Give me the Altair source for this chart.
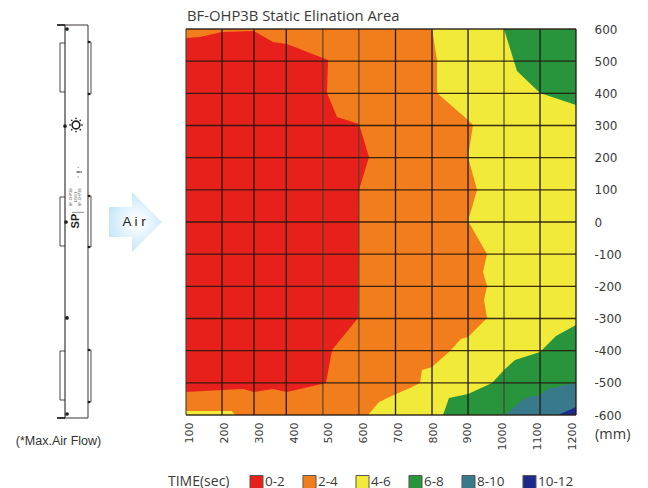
import altair as alt
import pandas as pd

TITLE = "BF-OHP3B Static Elination Area"
BANDS = ["0-2", "2-4", "4-6", "6-8", "8-10", "10-12"]
COLORS = ["#e8201c", "#f27d1c", "#f2ea38", "#28943c", "#38798c", "#1c2a8c"]
X_TICKS = [100, 200, 300, 400, 500, 600, 700, 800, 900, 1000, 1100, 1200]
Y_TICKS = [600, 500, 400, 300, 200, 100, 0, -100, -200, -300, -400, -500, -600]
X_DOMAIN = [88.5, 1211.5]
Y_DOMAIN = [-600, 600]

GRID_X_DARK = [192.2, 284.3, 377.2, 691.8, 796.9, 900.6, 1107.9, 1211.5]
GRID_X_SOFT = [88.5, 482.6, 586.2, 1004.2]
GRID_Y = [600, 500, 400, 300, 200, 100, 0, -100, -200, -300, -400, -500, -600]

# contour regions, painted in this order
ORANGE_X = [88.5, 1211.5, 1211.5, 88.5]
ORANGE_Y = [600, 600, -600, -600]
YELLOW_X = [796.9, 811.3, 811.3, 900.6, 915, 900.6, 926.5, 900.6, 955.3, 943.7, 955.3,
            946.6, 955.3, 900.6, 880, 848.7, 796.9, 768, 762.3, 733.5, 693.2, 644.3,
            612.6, 1211.5, 1211.5]
YELLOW_Y = [600, 503.6, 401, 317, 301.6, 202, 99.5, 3.1, -99.5, -155.4, -199, -242.5,
            -298.4, -357.5, -364, -401, -450.8, -460.1, -500.5, -516, -534.7, -559.6,
            -600, -600, 600]
YELLOW2_X = [88.5, 220, 230, 88.5]
YELLOW2_Y = [-587.6, -587.6, -600, -600]
GREEN_X = [1004.2, 1041.6, 1107.9, 1211.5, 1211.5]
GREEN_Y = [600, 469.4, 401, 363.7, 600]
GREEN2_X = [828.6, 845.8, 900.6, 969.7, 1004.2, 1035.9, 1107.9, 1153.9, 1211.5, 1211.5]
GREEN2_Y = [-600, -547.2, -534.7, -500.5, -460.1, -429, -404.1, -354.4, -320.2, -600]
TEAL_X = [1007, 1064.7, 1107.9, 1130.9, 1211.5, 1211.5]
TEAL_Y = [-600, -547.2, -537.8, -519.2, -500.5, -600]
NAVY_X = [1159.7, 1211.5, 1211.5]
NAVY_Y = [-600, -575.1, -600]
RED_X = [88.5, 128.8, 192.2, 284.3, 339, 379.3, 497.4, 494.5, 523.3, 586.7, 615.5, 586.7,
         583.8, 508.9, 491.6, 379.3, 339, 284.3, 252.6, 192.2, 88.5]
RED_Y = [572, 575.1, 590.7, 593.8, 559.6, 553.4, 503.6, 401, 326.4, 304.7, 202, 99.5,
         -298.4, -398, -500.5, -528.5, -519.2, -528.5, -519.2, -522.3, -528.5]

REGIONS = [("a", "2-4", ORANGE_X, ORANGE_Y), ("b", "4-6", YELLOW_X, YELLOW_Y),
           ("c", "4-6", YELLOW2_X, YELLOW2_Y), ("d", "6-8", GREEN_X, GREEN_Y),
           ("e", "6-8", GREEN2_X, GREEN2_Y), ("f", "8-10", TEAL_X, TEAL_Y),
           ("g", "10-12", NAVY_X, NAVY_Y), ("h", "0-2", RED_X, RED_Y)]

# fixture side view, same data coordinates as the plot
BODY_LEFT = [(-259.9, 612.4, -259.9, -609.3)]
BODY_DARK = [(-193.7, 612.4, -193.7, -609.3), (-282.9, 612.4, -193.7, 612.4),
             (-282.9, -609.3, -193.7, -609.3)]
THICK = [(-282.9, 612.4, -259.9, 612.4), (-282.9, -609.3, -259.9, -609.3)]
BRACKETS_L = [(556.5, 404.2), (77.7, -74.6), (-401, -553.4)]
BRACKETS_R = [(559.6, 397.9), (80.8, -77.7), (-397.9, -559.6)]
BR_L_OUT = -274.3
BR_R_OUT = -185.1
SCREWS_X = [-254.2, -259.9, -257, -254.2, -254.2]
SCREWS_Y = [600, 298.4, 0, -298.4, -596.9]
CLIPS_X = [-190.8] * 6
CLIPS_Y = [559.6, 397.9, 80.8, -77.7, -397.9, -559.6]
GEAR_X = [-228.3]
GEAR_Y = [301.6]
GEAR_DOTS_X = [-228.3, -228.3, -211, -245.5, -216, -240.5, -216, -240.5]
GEAR_DOTS_Y = [322, 281, 301.6, 301.6, 316, 316, 287, 287]
MINI_DOTS_X = [-225, -222, -219, -213.5]
MINI_DOTS_Y = [155.4, 155.4, 155.4, 155.4]
MINI_DOTS2_X = [-222, -222]
MINI_DOTS2_Y = [170, 140]
TINY_TEXT = ["BF-OHP3B", "1200/1", "BF-OHP3B"]
TINY_X = [-242, -228, -216]
TINY_Y = [77, 77, 77]
SP_TEXT = "SP"
SP_X = [-228.3]
SP_Y = [3]
RULE_SEG = [(-240, 30, -205, 30)]

ARROW_X = [-133.2, -67, -67, 19.4, -67, -67, -133.2]
ARROW_Y = [46.6, 46.6, 93.3, 0, -93.3, -46.6, -46.6]

x_scale = alt.Scale(domain=X_DOMAIN, nice=False, zero=False)
y_scale = alt.Scale(domain=Y_DOMAIN, nice=False, zero=False)
x_axis = alt.Axis(values=X_TICKS, labelAngle=-90, labelAlign="right", labelBaseline="middle",
                  labelFont="DejaVu Sans", labelFontSize=11, labelColor="#3a3a3a",
                  labelPadding=7, tickSize=0, domain=False, grid=False, format="d",
                  labelOverlap=False, labelBound=False, labelFlush=False)
y_axis = alt.Axis(values=Y_TICKS, orient="right", labelFont="DejaVu Sans", labelFontSize=12,
                  labelColor="#3a3a3a", labelPadding=18, tickSize=0, domain=False, grid=False,
                  labelExpr="toString(datum.value)",
                  labelOverlap=False, labelBound=False, labelFlush=False)
XP = alt.X("x:Q", scale=x_scale, title=None, axis=x_axis)
YP = alt.Y("y:Q", scale=y_scale, title=None, axis=y_axis)

rows = []
for name, band, xs, ys in REGIONS:
    for i, (a, b) in enumerate(zip(xs, ys)):
        rows.append({"poly": name, "band": band, "i": i, "x": a, "y": b})
regions = pd.DataFrame(rows)

legend = alt.Legend(orient="none", legendX=-18, legendY=445, direction="horizontal",
                    title="TIME(sec)", titleOrient="left", titleFont="Open Sans",
                    titleFontSize=14, titleFontWeight="normal", titleColor="#3a3a3a",
                    titlePadding=19, labelFont="Open Sans", labelFontSize=13.5,
                    labelColor="#3a3a3a", labelOffset=1, symbolType="square",
                    symbolSize=170, symbolStrokeColor="#555555", symbolStrokeWidth=1,
                    symbolOpacity=1, columnPadding=15, values=BANDS, columns=6)

layers = []
for name, band, _, _ in REGIONS:
    d = regions[regions.poly == name]
    layers.append(
        alt.Chart(d).mark_line(interpolate="linear-closed", strokeWidth=0).encode(
            x=XP, y=YP, order="i:Q",
            fill=alt.Fill("band:N", scale=alt.Scale(domain=BANDS, range=COLORS), legend=legend),
        )
    )

grid_dark = alt.Chart(pd.DataFrame({"x": GRID_X_DARK})).mark_rule(color="#231a12", strokeWidth=1.3).encode(x=XP)
grid_soft = alt.Chart(pd.DataFrame({"x": GRID_X_SOFT})).mark_rule(color="#4a4030", strokeWidth=1.5, opacity=0.75).encode(x=XP)
grid_y = alt.Chart(pd.DataFrame({"y": GRID_Y})).mark_rule(color="#231a12", strokeWidth=1.3, opacity=0.9).encode(y=YP)
layers += [grid_dark, grid_soft, grid_y]


def segs(items, **kw):
    df = pd.DataFrame(items, columns=["x", "y", "x2", "y2"])
    return alt.Chart(df).mark_rule(**kw).encode(x=XP, y=YP, x2="x2:Q", y2="y2:Q")


layers.append(segs(BODY_LEFT, color="#7a7a7a", strokeWidth=1.8))
layers.append(segs(BODY_DARK, color="#3a3532", strokeWidth=1))
layers.append(segs(THICK, color="#231f20", strokeWidth=1.6))
layers.append(segs(RULE_SEG, color="#444444", strokeWidth=0.6))
for top, bottom in BRACKETS_L:
    layers.append(segs([(BR_L_OUT, top, -259.9, top), (BR_L_OUT, top, BR_L_OUT, bottom),
                        (BR_L_OUT, bottom, -259.9, bottom)], color="#3a3532", strokeWidth=0.9))
for top, bottom in BRACKETS_R:
    layers.append(segs([(-193.7, top, BR_R_OUT, top), (BR_R_OUT, top, BR_R_OUT, bottom),
                        (-193.7, bottom, BR_R_OUT, bottom)], color="#3a3532", strokeWidth=0.9))


def dots(xs, ys, size, color="#231f20", **kw):
    return alt.Chart(pd.DataFrame({"x": xs, "y": ys})).mark_circle(size=size, color=color, opacity=1, **kw).encode(x=XP, y=YP)


layers.append(dots(SCREWS_X, SCREWS_Y, 14))
layers.append(dots(CLIPS_X, CLIPS_Y, 7))
layers.append(dots(GEAR_DOTS_X, GEAR_DOTS_Y, 3, "#333333"))
layers.append(dots(MINI_DOTS_X, MINI_DOTS_Y, 2.5, "#444444"))
layers.append(dots(MINI_DOTS2_X, MINI_DOTS2_Y, 1.5, "#777777"))
layers.append(alt.Chart(pd.DataFrame({"x": GEAR_X, "y": GEAR_Y})).mark_point(
    size=60, filled=False, color="#231f20", strokeWidth=1.6, opacity=1).encode(x=XP, y=YP))
layers.append(alt.Chart(pd.DataFrame({"x": TINY_X, "y": TINY_Y, "t": TINY_TEXT})).mark_text(
    angle=270, fontSize=3.5, font="Liberation Sans", color="#555555").encode(x=XP, y=YP, text="t:N"))
layers.append(alt.Chart(pd.DataFrame({"x": SP_X, "y": SP_Y, "t": [SP_TEXT]})).mark_text(
    angle=270, fontSize=11, fontWeight="bold", font="Liberation Sans", color="#231f20").encode(x=XP, y=YP, text="t:N"))

gradient = alt.RadialGradient(
    gradient="radial", x1=0.52, y1=0.5, x2=0.52, y2=0.5, r1=0.05, r2=0.62,
    stops=[alt.GradientStop(color="#ffffff", offset=0), alt.GradientStop(color="#b4e0f7", offset=1)])
arrow = pd.DataFrame({"i": range(len(ARROW_X)), "x": ARROW_X, "y": ARROW_Y})
layers.append(alt.Chart(arrow).mark_line(interpolate="linear-closed", strokeWidth=0, fill=gradient).encode(
    x=XP, y=YP, order="i:Q"))


def label(text, x, y, **kw):
    return alt.Chart(pd.DataFrame({"x": [x], "y": [y], "t": [text]})).mark_text(**kw).encode(x=XP, y=YP, text="t:N")


layers.append(label("A i r", -61, 0, fontSize=13.5, font="Liberation Sans", color="#222222"))
layers.append(label("(*Max.Air Flow)", -278.6, -680.8, fontSize=12.5, font="Liberation Sans", color="#333333"))
layers.append(label("(mm)", 1266.3, -662.2, fontSize=14.5, font="Open Sans", align="left", color="#3a3a3a"))

chart = alt.layer(*layers).resolve_scale(fill="shared").properties(
    width=390, height=386,
    padding={"left": 178, "top": 21, "right": 64, "bottom": 73},
    autosize=alt.AutoSizeParams(type="none"),
    title=alt.Title(TITLE, anchor="start", frame="group", font="Open Sans", fontSize=14.8, fontWeight="normal",
                    color="#3a3a3a", offset=0, dy=1, dx=1),
).configure_view(stroke=None)

chart.save("out.html", embed_options={"renderer": "svg", "actions": False})
